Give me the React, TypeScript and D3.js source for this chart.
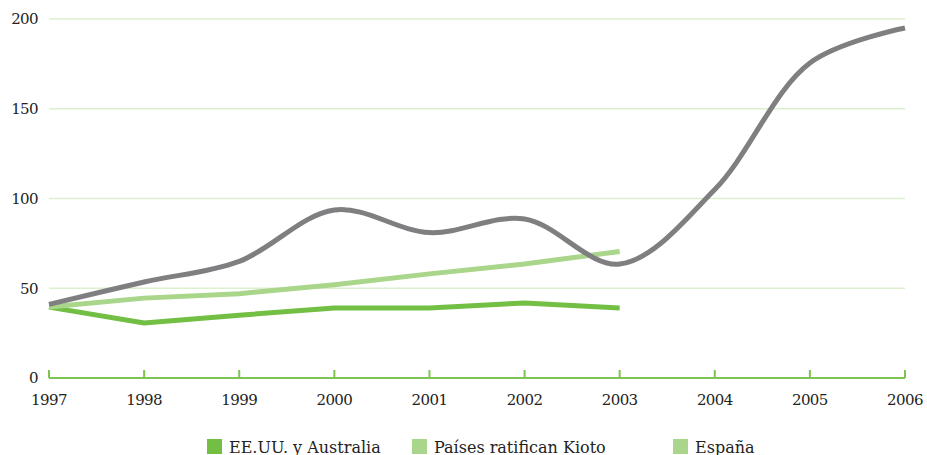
import React from "react";
import * as d3 from "d3";

const years = [1997, 1998, 1999, 2000, 2001, 2002, 2003, 2004, 2005, 2006];
const eeuuAustralia = [39.5, 30.6, 35, 39, 39, 41.8, 39];
const paisesKioto = [39.5, 44.5, 47, 52, 58, 63.5, 70.5];
const espana = [41, 53.5, 65, 93.6, 81, 88.6, 63.5, 105, 175.5, 195];
const yTicks = [0, 50, 100, 150, 200];
const legendLabels = ["EE.UU. y Australia", "Países ratifican Kioto", "España"];

const W = 927;
const H = 455;
const FONT = "DejaVu Serif, serif";

export default function App() {
  const x = d3.scaleLinear().domain([1997, 2006]).range([49, 905]);
  const y = d3.scaleLinear().domain([0, 200]).range([378, 19]);

  const straight = d3
    .line<number>()
    .x((_, i) => x(years[i]))
    .y((d) => y(d));
  const smooth = d3
    .line<number>()
    .x((_, i) => x(years[i]))
    .y((d) => y(d))
    .curve(d3.curveCatmullRom.alpha(0.5));

  const dark = "#72bf44";
  const light = "#a9d68a";
  const gray = "#7f7f81";
  const legendColors = [dark, light, light];
  const legendX = [207, 412, 673];

  return (
    <svg
      width={W}
      height={H}
      style={{ position: "absolute", left: 0, top: 0, background: "#fff" }}
    >
      {yTicks.slice(1).map((t) => (
        <line
          key={"g" + t}
          x1={49}
          x2={905}
          y1={y(t)}
          y2={y(t)}
          stroke="#dcefcf"
          strokeWidth={1.5}
        />
      ))}
      {yTicks.map((t) => (
        <text
          key={"yl" + t}
          x={38}
          y={y(t)}
          dy="0.36em"
          textAnchor="end"
          fontFamily={FONT}
          fontSize={15}
          letterSpacing={-0.6}
          fill="#222"
        >
          {t}
        </text>
      ))}
      <line x1={49} x2={905} y1={378} y2={378} stroke="#7cc453" strokeWidth={2} />
      {years.map((yr) => (
        <g key={"xt" + yr}>
          <line x1={x(yr)} x2={x(yr)} y1={370} y2={378} stroke="#7cc453" strokeWidth={2} />
          <text
            x={x(yr)}
            y={405}
            textAnchor="middle"
            fontFamily={FONT}
            fontSize={15}
            letterSpacing={-0.6}
            fill="#222"
          >
            {yr}
          </text>
        </g>
      ))}
      <path d={straight(eeuuAustralia) || ""} fill="none" stroke={dark} strokeWidth={5} strokeLinejoin="round" />
      <path d={straight(paisesKioto) || ""} fill="none" stroke={light} strokeWidth={5} />
      <path d={smooth(espana) || ""} fill="none" stroke={gray} strokeWidth={5} />
      {legendLabels.map((lab, i) => (
        <g key={"lg" + i}>
          <rect x={legendX[i]} y={439} width={15} height={15} fill={legendColors[i]} />
          <text
            x={legendX[i] + 22}
            y={452.5}
            fontFamily={FONT}
            fontSize={16}
            fill="#222"
          >
            {lab}
          </text>
        </g>
      ))}
    </svg>
  );
}
